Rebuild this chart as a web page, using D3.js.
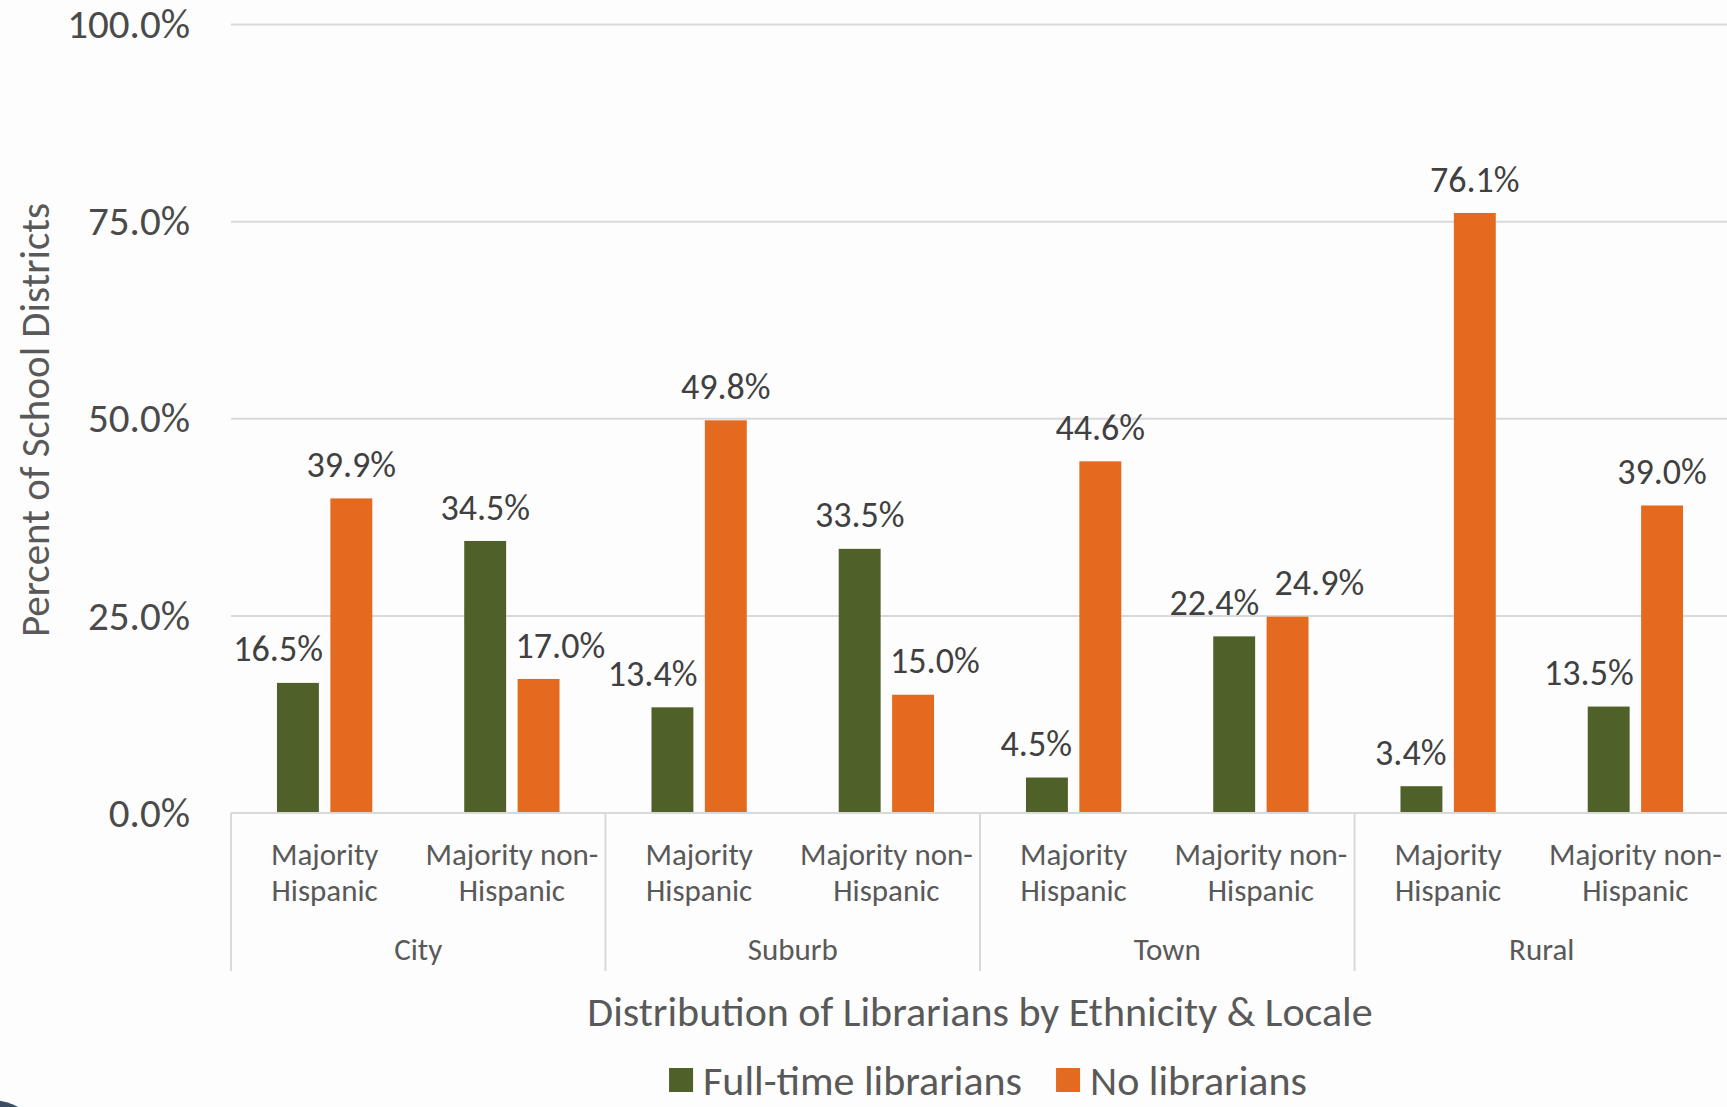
<!DOCTYPE html>
<html>
<head>
<meta charset="utf-8">
<script src="https://cdn.jsdelivr.net/npm/d3@7"></script>
<style>
  html, body { margin: 0; padding: 0; background: #fdfdfd; }
  svg { display: block; }
  text { font-family: Carlito, Calibri, Lato, sans-serif; }
</style>
</head>
<body>
<svg id="chart" width="1727" height="1107"></svg>
<script>
// Locales (outer grouping) and district ethnicity (inner grouping)
const locales = ["City", "Suburb", "Town", "Rural"];
const ethnicities = ["Majority Hispanic", "Majority non-Hispanic"];
const ethnicityLines = [["Majority", "Hispanic"], ["Majority non-", "Hispanic"]];
const seriesNames = ["Full-time librarians", "No librarians"];

// Percent of school districts, ordered City MH, City NH, Suburb MH, ... Rural NH
const fullTime = [16.5, 34.5, 13.4, 33.5, 4.5, 22.4, 3.4, 13.5];
const noLibrarians = [39.9, 17.0, 49.8, 15.0, 44.6, 24.9, 76.1, 39.0];

const yTicks = [0, 25, 50, 75, 100];

const colors = { "Full-time librarians": "#4f6128", "No librarians": "#e46a1f" };

const W = 1727, H = 1107;
const plotLeft = 231, plotRight = 1729, plotTop = 24.5, plotBottom = 813;

const svg = d3.select("#chart");
svg.append("rect").attr("width", W).attr("height", H).attr("fill", "#fdfdfd");

const y = d3.scaleLinear().domain([0, 100]).range([plotBottom, plotTop]);
const xLocale = d3.scaleBand().domain(locales).range([plotLeft, plotRight]).padding(0);
const xEth = d3.scaleBand().domain(ethnicities).range([0, xLocale.bandwidth()]).padding(0);
const xSeries = d3.scaleBand().domain(seriesNames).range([0, xEth.bandwidth()])
  .paddingInner(0.215).paddingOuter(0.861);

// Gridlines and y tick labels
const yAxis = d3.axisLeft(y).tickValues(yTicks).tickSize(0).tickPadding(0)
  .tickFormat(d => d.toFixed(1) + "%");
const gy = svg.append("g").attr("transform", `translate(${plotLeft - 41},0)`).call(yAxis);
gy.select(".domain").remove();
gy.selectAll("text").attr("fill", "#4a4a4a").style("font-size", "41px")
  .style("font-family", "Carlito, Calibri, Lato, sans-serif");

svg.append("g").selectAll("line").data(yTicks.filter(d => d > 0)).join("line")
  .attr("x1", plotLeft).attr("x2", W).attr("y1", d => y(d)).attr("y2", d => y(d))
  .attr("stroke", "#d9d9d9").attr("stroke-width", 2);

// Build flat records
const records = [];
locales.forEach((loc, i) => {
  ethnicities.forEach((eth, j) => {
    const k = i * 2 + j;
    records.push({ loc, eth, j, series: seriesNames[0], value: fullTime[k], other: noLibrarians[k] });
    records.push({ loc, eth, j, series: seriesNames[1], value: noLibrarians[k], other: fullTime[k] });
  });
});
const xPos = d => xLocale(d.loc) + xEth(d.eth) + xSeries(d.series);

// Bars
svg.append("g").selectAll("rect").data(records).join("rect")
  .attr("x", xPos)
  .attr("y", d => y(d.value))
  .attr("width", xSeries.bandwidth())
  .attr("height", d => y(0) - y(d.value))
  .attr("fill", d => colors[d.series]);

// Value labels: nudged sideways when the neighbouring bar or label would collide
svg.append("g").selectAll("text").data(records).join("text")
  .each(function(d) {
    const x0 = xPos(d), bw = xSeries.bandwidth();
    let x = x0 + bw / 2, anchor = "middle";
    if (d.series === seriesNames[0] && d.other > d.value) { x = x0 + bw + 4; anchor = "end"; }
    if (d.series === seriesNames[1] && d.other > d.value - 5) {
      anchor = "start";
      x = Math.abs(y(d.value) - y(d.other)) < 36 ? x0 + 8 : x0 - 2;
    }
    d3.select(this).attr("x", x).attr("text-anchor", anchor);
  })
  .attr("y", d => y(d.value) - 34)
  .attr("dy", "0.35em")
  .attr("fill", "#404040")
  .style("font-size", "36px")
  .text(d => d.value.toFixed(1) + "%");

// Category axis: baseline, group separators, labels
svg.append("line").attr("x1", plotLeft).attr("x2", W).attr("y1", plotBottom).attr("y2", plotBottom)
  .attr("stroke", "#d9d9d9").attr("stroke-width", 2);

svg.append("g").selectAll("line").data(locales).join("line")
  .attr("x1", d => xLocale(d)).attr("x2", d => xLocale(d))
  .attr("y1", plotBottom).attr("y2", 971)
  .attr("stroke", "#d9d9d9").attr("stroke-width", 2);

const subLabels = [];
locales.forEach(loc => ethnicities.forEach((eth, j) => subLabels.push({ loc, eth, lines: ethnicityLines[j] })));
const sub = svg.append("g").selectAll("text").data(subLabels).join("text")
  .attr("text-anchor", "middle")
  .attr("fill", "#595959")
  .style("font-size", "31px");
sub.selectAll("tspan").data(d => d.lines.map((t, i) => ({ t, i, d }))).join("tspan")
  .attr("x", o => xLocale(o.d.loc) + xEth(o.d.eth) + xEth.bandwidth() / 2)
  .attr("y", o => 854 + o.i * 36.5)
  .attr("dy", "0.35em")
  .text(o => o.t);

svg.append("g").selectAll("text").data(locales).join("text")
  .attr("x", d => xLocale(d) + xLocale.bandwidth() / 2)
  .attr("y", 949).attr("dy", "0.35em")
  .attr("text-anchor", "middle")
  .attr("fill", "#595959")
  .style("font-size", "31px")
  .text(d => d);

// Axis titles
svg.append("text")
  .attr("x", 980).attr("y", 1011).attr("dy", "0.35em")
  .attr("text-anchor", "middle").attr("fill", "#595959")
  .style("font-size", "42px")
  .text("Distribution of Librarians by Ethnicity & Locale");

svg.append("text")
  .attr("transform", "translate(35,420) rotate(-90)")
  .attr("dy", "0.35em")
  .attr("text-anchor", "middle").attr("fill", "#595959")
  .style("font-size", "41px")
  .text("Percent of School Districts");

// Legend
const legend = svg.append("g");
let lx = 0;
seriesNames.forEach((s, i) => {
  const item = legend.append("g").attr("transform", `translate(${lx},0)`);
  item.append("rect").attr("x", 0).attr("y", -12).attr("width", 24).attr("height", 24).attr("fill", colors[s]);
  const t = item.append("text").attr("x", 34).attr("y", 0).attr("dy", "0.35em")
    .attr("fill", "#595959").style("font-size", "42px").text(s);
  lx += 34 + t.node().getComputedTextLength() + 34;
});
const lw = lx - 34;
legend.attr("transform", `translate(${988 - lw / 2},1080)`);

// Corner mark
svg.append("circle").attr("cx", -10).attr("cy", 1160).attr("r", 60).attr("fill", "#3b4c63");
</script>
</body>
</html>
